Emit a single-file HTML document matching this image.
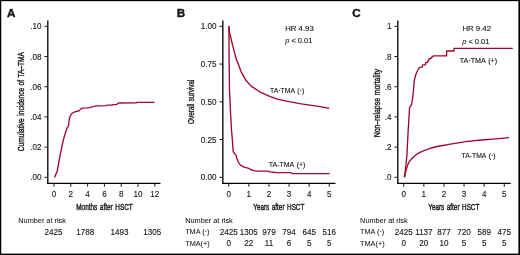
<!DOCTYPE html>
<html><head><meta charset="utf-8"><title>TA-TMA outcomes</title>
<style>
html,body{margin:0;padding:0;background:#fff;}
body{width:520px;height:255px;overflow:hidden;}
svg{display:block;font-family:"Liberation Sans", sans-serif;will-change:transform;}
text{fill:#1a1a1a;}
</style></head>
<body>
<svg width="520" height="255" viewBox="0 0 520 255">
<rect x="0" y="0" width="520" height="1.15" fill="#000"/>
<rect x="0" y="0" width="1.25" height="255" fill="#000"/>
<rect x="518.4" y="0" width="1.6" height="255" fill="#000"/>
<rect x="0" y="253.6" width="520" height="1.4" fill="#000"/>
<text x="7.0" y="17.2" font-size="11.6" text-anchor="start" font-weight="bold" stroke="#1a1a1a" stroke-width="0.45" >A</text>
<line x1="47.8" y1="20.4" x2="47.8" y2="184.05" stroke="#050505" stroke-width="1.35"/>
<line x1="47.15" y1="183.45" x2="160.5" y2="183.45" stroke="#050505" stroke-width="1.25"/>
<line x1="44.4" y1="177.3" x2="47.8" y2="177.3" stroke="#1a1a1a" stroke-width="1"/>
<text transform="translate(41.40,180.35) scale(0.88,1)" font-size="9.2" text-anchor="end" font-weight="normal" stroke="#1a1a1a" stroke-width="0.14" >.00</text>
<line x1="44.4" y1="147.1" x2="47.8" y2="147.1" stroke="#1a1a1a" stroke-width="1"/>
<text transform="translate(41.40,150.15) scale(0.88,1)" font-size="9.2" text-anchor="end" font-weight="normal" stroke="#1a1a1a" stroke-width="0.14" >.02</text>
<line x1="44.4" y1="116.9" x2="47.8" y2="116.9" stroke="#1a1a1a" stroke-width="1"/>
<text transform="translate(41.40,119.95) scale(0.88,1)" font-size="9.2" text-anchor="end" font-weight="normal" stroke="#1a1a1a" stroke-width="0.14" >.04</text>
<line x1="44.4" y1="86.7" x2="47.8" y2="86.7" stroke="#1a1a1a" stroke-width="1"/>
<text transform="translate(41.40,89.75) scale(0.88,1)" font-size="9.2" text-anchor="end" font-weight="normal" stroke="#1a1a1a" stroke-width="0.14" >.06</text>
<line x1="44.4" y1="56.5" x2="47.8" y2="56.5" stroke="#1a1a1a" stroke-width="1"/>
<text transform="translate(41.40,59.55) scale(0.88,1)" font-size="9.2" text-anchor="end" font-weight="normal" stroke="#1a1a1a" stroke-width="0.14" >.08</text>
<line x1="44.4" y1="26.3" x2="47.8" y2="26.3" stroke="#1a1a1a" stroke-width="1"/>
<text transform="translate(41.40,29.35) scale(0.88,1)" font-size="9.2" text-anchor="end" font-weight="normal" stroke="#1a1a1a" stroke-width="0.14" >.10</text>
<line x1="54.0" y1="183.45" x2="54.0" y2="186.75" stroke="#1a1a1a" stroke-width="1"/>
<text transform="translate(54.00,197.30) scale(0.88,1)" font-size="9.2" text-anchor="middle" font-weight="normal" stroke="#1a1a1a" stroke-width="0.14" >0</text>
<line x1="70.8" y1="183.45" x2="70.8" y2="186.75" stroke="#1a1a1a" stroke-width="1"/>
<text transform="translate(70.80,197.30) scale(0.88,1)" font-size="9.2" text-anchor="middle" font-weight="normal" stroke="#1a1a1a" stroke-width="0.14" >2</text>
<line x1="87.6" y1="183.45" x2="87.6" y2="186.75" stroke="#1a1a1a" stroke-width="1"/>
<text transform="translate(87.60,197.30) scale(0.88,1)" font-size="9.2" text-anchor="middle" font-weight="normal" stroke="#1a1a1a" stroke-width="0.14" >4</text>
<line x1="104.4" y1="183.45" x2="104.4" y2="186.75" stroke="#1a1a1a" stroke-width="1"/>
<text transform="translate(104.40,197.30) scale(0.88,1)" font-size="9.2" text-anchor="middle" font-weight="normal" stroke="#1a1a1a" stroke-width="0.14" >6</text>
<line x1="121.2" y1="183.45" x2="121.2" y2="186.75" stroke="#1a1a1a" stroke-width="1"/>
<text transform="translate(121.20,197.30) scale(0.88,1)" font-size="9.2" text-anchor="middle" font-weight="normal" stroke="#1a1a1a" stroke-width="0.14" >8</text>
<line x1="138.0" y1="183.45" x2="138.0" y2="186.75" stroke="#1a1a1a" stroke-width="1"/>
<text transform="translate(138.00,197.30) scale(0.88,1)" font-size="9.2" text-anchor="middle" font-weight="normal" stroke="#1a1a1a" stroke-width="0.14" >10</text>
<line x1="154.8" y1="183.45" x2="154.8" y2="186.75" stroke="#1a1a1a" stroke-width="1"/>
<text transform="translate(154.80,197.30) scale(0.88,1)" font-size="9.2" text-anchor="middle" font-weight="normal" stroke="#1a1a1a" stroke-width="0.14" >12</text>
<text transform="translate(24.0,101.6) rotate(-90)" font-size="9.9" text-anchor="middle" textLength="99.2" lengthAdjust="spacingAndGlyphs" word-spacing="1" stroke="#1a1a1a" stroke-width="0.4">Cumulative incidence of TA–TMA</text>
<text x="104.5" y="210.3" font-size="9.9" text-anchor="middle" font-weight="normal" textLength="56.5" lengthAdjust="spacingAndGlyphs" stroke="#1a1a1a" stroke-width="0.45" word-spacing="1.3">Months after HSCT</text>
<text x="18.3" y="222.8" font-size="8.0" text-anchor="start" font-weight="normal" textLength="47.6" lengthAdjust="spacingAndGlyphs" stroke="#1a1a1a" stroke-width="0.08" >Number at risk</text>
<text transform="translate(53.60,234.50) scale(0.91,1)" font-size="8.9" text-anchor="middle" font-weight="normal" stroke="#1a1a1a" stroke-width="0.14" >2425</text>
<text transform="translate(85.20,234.50) scale(0.91,1)" font-size="8.9" text-anchor="middle" font-weight="normal" stroke="#1a1a1a" stroke-width="0.14" >1788</text>
<text transform="translate(119.60,234.50) scale(0.91,1)" font-size="8.9" text-anchor="middle" font-weight="normal" stroke="#1a1a1a" stroke-width="0.14" >1493</text>
<text transform="translate(152.30,234.50) scale(0.91,1)" font-size="8.9" text-anchor="middle" font-weight="normal" stroke="#1a1a1a" stroke-width="0.14" >1305</text>
<polyline points="54.50,177.50 57.10,171.40 58.60,163.50 60.20,154.90 61.30,149.40 62.50,143.50 64.00,137.60 65.80,131.80 67.20,127.40 68.30,126.30 68.80,124.50 69.10,120.00 69.60,118.30 70.30,115.90 71.80,113.50 73.80,112.40 75.70,111.50 77.50,111.40 79.60,110.40 81.20,108.60 82.50,108.10 86.70,107.90 90.00,107.60 91.50,106.90 93.50,106.60 95.00,106.10 98.70,105.80 106.60,105.70 106.80,105.10 112.40,105.10 112.60,104.60 116.80,104.50 117.60,103.50 118.60,103.00 136.30,102.95 136.60,102.30 154.50,102.30" fill="none" stroke="#a0082e" stroke-width="1.35" stroke-linejoin="round"/>
<text x="176.8" y="17.0" font-size="11.6" text-anchor="start" font-weight="bold" stroke="#1a1a1a" stroke-width="0.45" >B</text>
<line x1="222.85" y1="20.4" x2="222.85" y2="184.05" stroke="#050505" stroke-width="1.35"/>
<line x1="222.2" y1="183.45" x2="335.5" y2="183.45" stroke="#050505" stroke-width="1.25"/>
<line x1="219.45" y1="177.3" x2="222.85" y2="177.3" stroke="#1a1a1a" stroke-width="1"/>
<text transform="translate(216.40,180.35) scale(0.88,1)" font-size="9.2" text-anchor="end" font-weight="normal" stroke="#1a1a1a" stroke-width="0.14" >0.00</text>
<line x1="219.45" y1="139.55" x2="222.85" y2="139.55" stroke="#1a1a1a" stroke-width="1"/>
<text transform="translate(216.40,142.60) scale(0.88,1)" font-size="9.2" text-anchor="end" font-weight="normal" stroke="#1a1a1a" stroke-width="0.14" >0.25</text>
<line x1="219.45" y1="101.8" x2="222.85" y2="101.8" stroke="#1a1a1a" stroke-width="1"/>
<text transform="translate(216.40,104.85) scale(0.88,1)" font-size="9.2" text-anchor="end" font-weight="normal" stroke="#1a1a1a" stroke-width="0.14" >0.50</text>
<line x1="219.45" y1="64.05" x2="222.85" y2="64.05" stroke="#1a1a1a" stroke-width="1"/>
<text transform="translate(216.40,67.10) scale(0.88,1)" font-size="9.2" text-anchor="end" font-weight="normal" stroke="#1a1a1a" stroke-width="0.14" >0.75</text>
<line x1="219.45" y1="26.3" x2="222.85" y2="26.3" stroke="#1a1a1a" stroke-width="1"/>
<text transform="translate(216.40,29.35) scale(0.88,1)" font-size="9.2" text-anchor="end" font-weight="normal" stroke="#1a1a1a" stroke-width="0.14" >1.00</text>
<line x1="228.75" y1="183.45" x2="228.75" y2="186.75" stroke="#1a1a1a" stroke-width="1"/>
<text transform="translate(228.75,197.30) scale(0.88,1)" font-size="9.2" text-anchor="middle" font-weight="normal" stroke="#1a1a1a" stroke-width="0.14" >0</text>
<line x1="248.85" y1="183.45" x2="248.85" y2="186.75" stroke="#1a1a1a" stroke-width="1"/>
<text transform="translate(248.85,197.30) scale(0.88,1)" font-size="9.2" text-anchor="middle" font-weight="normal" stroke="#1a1a1a" stroke-width="0.14" >1</text>
<line x1="268.95" y1="183.45" x2="268.95" y2="186.75" stroke="#1a1a1a" stroke-width="1"/>
<text transform="translate(268.95,197.30) scale(0.88,1)" font-size="9.2" text-anchor="middle" font-weight="normal" stroke="#1a1a1a" stroke-width="0.14" >2</text>
<line x1="289.05" y1="183.45" x2="289.05" y2="186.75" stroke="#1a1a1a" stroke-width="1"/>
<text transform="translate(289.05,197.30) scale(0.88,1)" font-size="9.2" text-anchor="middle" font-weight="normal" stroke="#1a1a1a" stroke-width="0.14" >3</text>
<line x1="309.15" y1="183.45" x2="309.15" y2="186.75" stroke="#1a1a1a" stroke-width="1"/>
<text transform="translate(309.15,197.30) scale(0.88,1)" font-size="9.2" text-anchor="middle" font-weight="normal" stroke="#1a1a1a" stroke-width="0.14" >4</text>
<line x1="329.25" y1="183.45" x2="329.25" y2="186.75" stroke="#1a1a1a" stroke-width="1"/>
<text transform="translate(329.25,197.30) scale(0.88,1)" font-size="9.2" text-anchor="middle" font-weight="normal" stroke="#1a1a1a" stroke-width="0.14" >5</text>
<text transform="translate(194.2,101.7) rotate(-90)" font-size="9.9" text-anchor="middle" textLength="44.4" lengthAdjust="spacingAndGlyphs" word-spacing="1" stroke="#1a1a1a" stroke-width="0.4">Overall survival</text>
<text x="278.8" y="210.3" font-size="9.9" text-anchor="middle" font-weight="normal" textLength="51" lengthAdjust="spacingAndGlyphs" stroke="#1a1a1a" stroke-width="0.45" word-spacing="1.3">Years after HSCT</text>
<text x="285.2" y="30.5" font-size="7.8" text-anchor="start" font-weight="normal" stroke="#1a1a1a" stroke-width="0.14" >HR 4.93</text>
<text x="285.2" y="43.2" font-size="8.1" text-anchor="start" font-weight="normal" textLength="27.2" lengthAdjust="spacingAndGlyphs" stroke="#1a1a1a" stroke-width="0.14" ><tspan font-style="italic" stroke-width="0.05">p</tspan> &lt; 0.01</text>
<text x="270" y="93.3" font-size="7.4" text-anchor="start" font-weight="normal" textLength="34.2" lengthAdjust="spacingAndGlyphs" stroke="#1a1a1a" stroke-width="0.14" word-spacing="0.9">TA·TMA (·)</text>
<text x="268.8" y="166.6" font-size="7.4" text-anchor="start" font-weight="normal" textLength="36.6" lengthAdjust="spacingAndGlyphs" stroke="#1a1a1a" stroke-width="0.14" word-spacing="0.9">TA-TMA (+)</text>
<text x="185.2" y="222.8" font-size="8.0" text-anchor="start" font-weight="normal" textLength="47.6" lengthAdjust="spacingAndGlyphs" stroke="#1a1a1a" stroke-width="0.08" >Number at risk</text>
<text x="185.2" y="234.25" font-size="8.0" text-anchor="start" font-weight="normal" textLength="24.2" lengthAdjust="spacingAndGlyphs" stroke="#1a1a1a" stroke-width="0.08" >TMA (·)</text>
<text x="185.2" y="245.8" font-size="8.0" text-anchor="start" font-weight="normal" textLength="24.5" lengthAdjust="spacingAndGlyphs" stroke="#1a1a1a" stroke-width="0.08" >TMA(+)</text>
<text transform="translate(228.75,234.50) scale(0.91,1)" font-size="8.9" text-anchor="middle" font-weight="normal" stroke="#1a1a1a" stroke-width="0.14" >2425</text>
<text transform="translate(248.85,234.50) scale(0.91,1)" font-size="8.9" text-anchor="middle" font-weight="normal" stroke="#1a1a1a" stroke-width="0.14" >1305</text>
<text transform="translate(268.95,234.50) scale(0.91,1)" font-size="8.9" text-anchor="middle" font-weight="normal" stroke="#1a1a1a" stroke-width="0.14" >979</text>
<text transform="translate(289.05,234.50) scale(0.91,1)" font-size="8.9" text-anchor="middle" font-weight="normal" stroke="#1a1a1a" stroke-width="0.14" >794</text>
<text transform="translate(309.15,234.50) scale(0.91,1)" font-size="8.9" text-anchor="middle" font-weight="normal" stroke="#1a1a1a" stroke-width="0.14" >645</text>
<text transform="translate(329.25,234.50) scale(0.91,1)" font-size="8.9" text-anchor="middle" font-weight="normal" stroke="#1a1a1a" stroke-width="0.14" >516</text>
<text transform="translate(228.75,246.15) scale(0.91,1)" font-size="8.9" text-anchor="middle" font-weight="normal" stroke="#1a1a1a" stroke-width="0.14" >0</text>
<text transform="translate(248.85,246.15) scale(0.91,1)" font-size="8.9" text-anchor="middle" font-weight="normal" stroke="#1a1a1a" stroke-width="0.14" >22</text>
<text transform="translate(268.95,246.15) scale(0.91,1)" font-size="8.9" text-anchor="middle" font-weight="normal" stroke="#1a1a1a" stroke-width="0.14" >11</text>
<text transform="translate(289.05,246.15) scale(0.91,1)" font-size="8.9" text-anchor="middle" font-weight="normal" stroke="#1a1a1a" stroke-width="0.14" >6</text>
<text transform="translate(309.15,246.15) scale(0.91,1)" font-size="8.9" text-anchor="middle" font-weight="normal" stroke="#1a1a1a" stroke-width="0.14" >5</text>
<text transform="translate(329.25,246.15) scale(0.91,1)" font-size="8.9" text-anchor="middle" font-weight="normal" stroke="#1a1a1a" stroke-width="0.14" >5</text>
<polyline points="228.90,26.00 229.50,32.50 231.80,42.00 234.20,51.40 236.50,60.00 237.50,62.10 241.10,71.80 245.50,79.70 250.80,85.90 255.00,88.60 261.20,92.70 270.40,96.60 278.10,99.30 290.40,101.90 301.20,103.80 313.50,105.60 321.50,106.90 329.20,108.40" fill="none" stroke="#a0082e" stroke-width="1.35" stroke-linejoin="round"/>
<polyline points="228.90,26.00 229.10,60.00 229.50,90.00 230.50,112.00 231.50,130.00 232.40,140.00 232.80,146.30 233.30,151.90 234.90,153.80 236.20,155.70 237.00,158.80 238.30,162.00 239.90,164.50 242.40,166.40 244.90,167.40 248.10,168.20 250.60,169.50 253.70,170.70 257.50,171.10 262.00,171.10 268.60,171.10 269.10,171.90 276.00,172.50 291.00,172.70 292.00,173.60 329.60,173.60" fill="none" stroke="#a0082e" stroke-width="1.35" stroke-linejoin="round"/>
<text x="352.2" y="17.2" font-size="11.6" text-anchor="start" font-weight="bold" stroke="#1a1a1a" stroke-width="0.45" >C</text>
<line x1="397.8" y1="20.4" x2="397.8" y2="184.05" stroke="#050505" stroke-width="1.35"/>
<line x1="397.15" y1="183.45" x2="510.75" y2="183.45" stroke="#050505" stroke-width="1.25"/>
<line x1="394.4" y1="177.3" x2="397.8" y2="177.3" stroke="#1a1a1a" stroke-width="1"/>
<text transform="translate(391.40,180.35) scale(0.88,1)" font-size="9.2" text-anchor="end" font-weight="normal" stroke="#1a1a1a" stroke-width="0.14" >.0</text>
<line x1="394.4" y1="147.1" x2="397.8" y2="147.1" stroke="#1a1a1a" stroke-width="1"/>
<text transform="translate(391.40,150.15) scale(0.88,1)" font-size="9.2" text-anchor="end" font-weight="normal" stroke="#1a1a1a" stroke-width="0.14" >.2</text>
<line x1="394.4" y1="116.9" x2="397.8" y2="116.9" stroke="#1a1a1a" stroke-width="1"/>
<text transform="translate(391.40,119.95) scale(0.88,1)" font-size="9.2" text-anchor="end" font-weight="normal" stroke="#1a1a1a" stroke-width="0.14" >.4</text>
<line x1="394.4" y1="86.7" x2="397.8" y2="86.7" stroke="#1a1a1a" stroke-width="1"/>
<text transform="translate(391.40,89.75) scale(0.88,1)" font-size="9.2" text-anchor="end" font-weight="normal" stroke="#1a1a1a" stroke-width="0.14" >.6</text>
<line x1="394.4" y1="56.5" x2="397.8" y2="56.5" stroke="#1a1a1a" stroke-width="1"/>
<text transform="translate(391.40,59.55) scale(0.88,1)" font-size="9.2" text-anchor="end" font-weight="normal" stroke="#1a1a1a" stroke-width="0.14" >.8</text>
<line x1="394.4" y1="26.3" x2="397.8" y2="26.3" stroke="#1a1a1a" stroke-width="1"/>
<text transform="translate(391.40,29.35) scale(0.88,1)" font-size="9.2" text-anchor="end" font-weight="normal" stroke="#1a1a1a" stroke-width="0.14" >1</text>
<line x1="403.75" y1="183.45" x2="403.75" y2="186.75" stroke="#1a1a1a" stroke-width="1"/>
<text transform="translate(403.75,197.30) scale(0.88,1)" font-size="9.2" text-anchor="middle" font-weight="normal" stroke="#1a1a1a" stroke-width="0.14" >0</text>
<line x1="423.85" y1="183.45" x2="423.85" y2="186.75" stroke="#1a1a1a" stroke-width="1"/>
<text transform="translate(423.85,197.30) scale(0.88,1)" font-size="9.2" text-anchor="middle" font-weight="normal" stroke="#1a1a1a" stroke-width="0.14" >1</text>
<line x1="443.95" y1="183.45" x2="443.95" y2="186.75" stroke="#1a1a1a" stroke-width="1"/>
<text transform="translate(443.95,197.30) scale(0.88,1)" font-size="9.2" text-anchor="middle" font-weight="normal" stroke="#1a1a1a" stroke-width="0.14" >2</text>
<line x1="464.05" y1="183.45" x2="464.05" y2="186.75" stroke="#1a1a1a" stroke-width="1"/>
<text transform="translate(464.05,197.30) scale(0.88,1)" font-size="9.2" text-anchor="middle" font-weight="normal" stroke="#1a1a1a" stroke-width="0.14" >3</text>
<line x1="484.15" y1="183.45" x2="484.15" y2="186.75" stroke="#1a1a1a" stroke-width="1"/>
<text transform="translate(484.15,197.30) scale(0.88,1)" font-size="9.2" text-anchor="middle" font-weight="normal" stroke="#1a1a1a" stroke-width="0.14" >4</text>
<line x1="504.25" y1="183.45" x2="504.25" y2="186.75" stroke="#1a1a1a" stroke-width="1"/>
<text transform="translate(504.25,197.30) scale(0.88,1)" font-size="9.2" text-anchor="middle" font-weight="normal" stroke="#1a1a1a" stroke-width="0.14" >5</text>
<text transform="translate(379.5,103.2) rotate(-90)" font-size="9.9" text-anchor="middle" textLength="68.2" lengthAdjust="spacingAndGlyphs" word-spacing="1" stroke="#1a1a1a" stroke-width="0.4">Non–relapse mortality</text>
<text x="453.8" y="210.3" font-size="9.9" text-anchor="middle" font-weight="normal" textLength="51" lengthAdjust="spacingAndGlyphs" stroke="#1a1a1a" stroke-width="0.45" word-spacing="1.3">Years after HSCT</text>
<text x="462.4" y="30.9" font-size="7.8" text-anchor="start" font-weight="normal" stroke="#1a1a1a" stroke-width="0.14" >HR 9.42</text>
<text x="462.2" y="43.5" font-size="8.1" text-anchor="start" font-weight="normal" textLength="27.2" lengthAdjust="spacingAndGlyphs" stroke="#1a1a1a" stroke-width="0.14" ><tspan font-style="italic" stroke-width="0.05">p</tspan> &lt; 0.01</text>
<text x="459.7" y="63.1" font-size="7.4" text-anchor="start" font-weight="normal" textLength="37.4" lengthAdjust="spacingAndGlyphs" stroke="#1a1a1a" stroke-width="0.14" word-spacing="0.9">TA·TMA (+)</text>
<text x="461.5" y="158.2" font-size="7.4" text-anchor="start" font-weight="normal" textLength="34.0" lengthAdjust="spacingAndGlyphs" stroke="#1a1a1a" stroke-width="0.14" word-spacing="0.9">TA-TMA (·)</text>
<text x="360.1" y="222.8" font-size="8.0" text-anchor="start" font-weight="normal" textLength="47.6" lengthAdjust="spacingAndGlyphs" stroke="#1a1a1a" stroke-width="0.08" >Number at risk</text>
<text x="360.1" y="234.25" font-size="8.0" text-anchor="start" font-weight="normal" textLength="24.2" lengthAdjust="spacingAndGlyphs" stroke="#1a1a1a" stroke-width="0.08" >TMA (·)</text>
<text x="360.1" y="245.8" font-size="8.0" text-anchor="start" font-weight="normal" textLength="24.5" lengthAdjust="spacingAndGlyphs" stroke="#1a1a1a" stroke-width="0.08" >TMA(+)</text>
<text transform="translate(403.75,234.50) scale(0.91,1)" font-size="8.9" text-anchor="middle" font-weight="normal" stroke="#1a1a1a" stroke-width="0.14" >2425</text>
<text transform="translate(423.85,234.50) scale(0.91,1)" font-size="8.9" text-anchor="middle" font-weight="normal" stroke="#1a1a1a" stroke-width="0.14" >1137</text>
<text transform="translate(443.95,234.50) scale(0.91,1)" font-size="8.9" text-anchor="middle" font-weight="normal" stroke="#1a1a1a" stroke-width="0.14" >877</text>
<text transform="translate(464.05,234.50) scale(0.91,1)" font-size="8.9" text-anchor="middle" font-weight="normal" stroke="#1a1a1a" stroke-width="0.14" >720</text>
<text transform="translate(484.15,234.50) scale(0.91,1)" font-size="8.9" text-anchor="middle" font-weight="normal" stroke="#1a1a1a" stroke-width="0.14" >589</text>
<text transform="translate(504.25,234.50) scale(0.91,1)" font-size="8.9" text-anchor="middle" font-weight="normal" stroke="#1a1a1a" stroke-width="0.14" >475</text>
<text transform="translate(403.75,246.15) scale(0.91,1)" font-size="8.9" text-anchor="middle" font-weight="normal" stroke="#1a1a1a" stroke-width="0.14" >0</text>
<text transform="translate(423.85,246.15) scale(0.91,1)" font-size="8.9" text-anchor="middle" font-weight="normal" stroke="#1a1a1a" stroke-width="0.14" >20</text>
<text transform="translate(443.95,246.15) scale(0.91,1)" font-size="8.9" text-anchor="middle" font-weight="normal" stroke="#1a1a1a" stroke-width="0.14" >10</text>
<text transform="translate(464.05,246.15) scale(0.91,1)" font-size="8.9" text-anchor="middle" font-weight="normal" stroke="#1a1a1a" stroke-width="0.14" >5</text>
<text transform="translate(484.15,246.15) scale(0.91,1)" font-size="8.9" text-anchor="middle" font-weight="normal" stroke="#1a1a1a" stroke-width="0.14" >5</text>
<text transform="translate(504.25,246.15) scale(0.91,1)" font-size="8.9" text-anchor="middle" font-weight="normal" stroke="#1a1a1a" stroke-width="0.14" >5</text>
<polyline points="404.30,177.30 405.50,169.20 406.90,155.50 408.20,130.00 408.60,124.20 409.20,114.00 409.60,107.50 410.50,106.30 411.70,104.20 412.50,99.00 413.30,92.00 413.90,85.00 414.30,80.60 415.20,76.50 416.20,73.50 417.40,71.00 418.50,69.00 419.50,67.30 422.30,67.20 422.60,64.80 425.30,64.80 425.80,62.50 427.50,62.30 427.90,60.60 428.70,60.50 429.10,58.70 431.00,58.50 431.40,57.10 432.80,57.00 433.10,55.90 446.60,55.90 446.60,51.00 454.00,51.00 454.00,48.35 512.80,48.35" fill="none" stroke="#a0082e" stroke-width="1.35" stroke-linejoin="round"/>
<polyline points="404.50,177.20 405.60,172.00 406.40,169.00 407.10,166.70 408.60,162.70 411.00,159.60 414.10,156.50 417.30,153.80 422.00,151.30 428.20,149.10 434.50,147.00 440.00,146.00 450.40,144.10 465.80,141.60 481.20,140.00 496.50,138.80 509.10,137.70" fill="none" stroke="#a0082e" stroke-width="1.35" stroke-linejoin="round"/>
</svg>
</body></html>
